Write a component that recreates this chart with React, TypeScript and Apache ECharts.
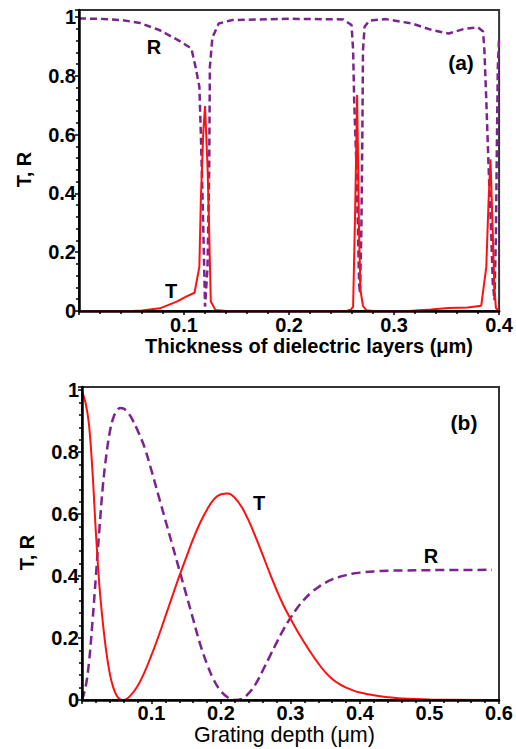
import React, { useEffect, useRef } from "react";
import * as echarts from "echarts";

// ---------- Data ----------
// Panel (a): x = thickness of dielectric layers (µm)
const thicknessT: [number, number][] = [
  [0, 0], [0.05, 0], [0.06, 0.002], [0.077, 0.009], [0.093, 0.032], [0.102, 0.049],
  [0.11, 0.062], [0.1146, 0.15], [0.116, 0.377], [0.1183, 0.605], [0.12, 0.697],
  [0.1224, 0.49], [0.124, 0.265], [0.1255, 0.032], [0.13, 0.003], [0.14, 0],
  [0.255, 0], [0.259, 0.005], [0.261, 0.015], [0.263, 0.35], [0.2648, 0.735],
  [0.2667, 0.265], [0.268, 0.071], [0.2704, 0.017], [0.2735, 0.003], [0.28, 0],
  [0.315, 0], [0.32, 0.002], [0.335, 0.005], [0.352, 0.01], [0.37, 0.012],
  [0.383, 0.018], [0.3878, 0.15], [0.39, 0.377], [0.3918, 0.516], [0.394, 0.265],
  [0.3955, 0.082], [0.397, 0.01], [0.4, 0],
];
const thicknessR: [number, number][] = [
  [0, 0.995], [0.02, 0.994], [0.04, 0.99], [0.058, 0.98], [0.077, 0.955],
  [0.096, 0.918], [0.107, 0.893], [0.111, 0.83], [0.1146, 0.763], [0.116, 0.605],
  [0.1177, 0.377], [0.1192, 0.15], [0.12, 0.015], [0.1224, 0.15], [0.124, 0.49],
  [0.1246, 0.83], [0.127, 0.93], [0.133, 0.978], [0.146, 0.99], [0.2, 0.994],
  [0.2516, 0.992], [0.2595, 0.973], [0.261, 0.888], [0.262, 0.718], [0.2642, 0.49],
  [0.2657, 0.265], [0.2667, 0.094], [0.2675, 0.06], [0.2688, 0.265], [0.2698, 0.6],
  [0.2704, 0.888], [0.272, 0.968], [0.2767, 0.988], [0.292, 0.993], [0.317, 0.978],
  [0.336, 0.956], [0.352, 0.944], [0.367, 0.96], [0.38, 0.965], [0.3847, 0.951],
  [0.386, 0.888], [0.3878, 0.718], [0.39, 0.49], [0.3925, 0.265], [0.394, 0.094],
  [0.3956, 0.037], [0.397, 0.265], [0.398, 0.6], [0.3988, 0.83], [0.4, 0.93],
];

// Panel (b): x = grating depth (µm)
const depthT: [number, number][] = [
  [0, 0.995], [0.005, 0.96], [0.01, 0.89], [0.015, 0.74], [0.02, 0.54], [0.025, 0.37],
  [0.03, 0.25], [0.035, 0.155], [0.04, 0.085], [0.045, 0.04], [0.05, 0.014],
  [0.055, 0.002], [0.06, 0], [0.07, 0.015], [0.08, 0.045], [0.09, 0.09], [0.1, 0.145],
  [0.11, 0.205], [0.12, 0.27], [0.13, 0.335], [0.14, 0.4], [0.15, 0.46], [0.16, 0.52],
  [0.17, 0.572], [0.18, 0.615], [0.19, 0.648], [0.2, 0.664], [0.21, 0.666],
  [0.22, 0.652], [0.23, 0.622], [0.24, 0.578], [0.25, 0.525], [0.26, 0.468],
  [0.27, 0.41], [0.28, 0.355], [0.29, 0.305], [0.3, 0.262], [0.31, 0.222],
  [0.32, 0.185], [0.33, 0.15], [0.34, 0.118], [0.35, 0.09], [0.36, 0.068],
  [0.37, 0.052], [0.38, 0.04], [0.39, 0.031], [0.4, 0.024], [0.42, 0.015],
  [0.44, 0.009], [0.46, 0.005], [0.5, 0.002], [0.58, 0],
];
const depthR: [number, number][] = [
  [0, 0], [0.005, 0.04], [0.01, 0.12], [0.015, 0.25], [0.02, 0.4], [0.025, 0.55],
  [0.03, 0.69], [0.035, 0.79], [0.04, 0.865], [0.045, 0.91], [0.05, 0.933],
  [0.055, 0.942], [0.06, 0.94], [0.065, 0.93], [0.07, 0.915], [0.08, 0.87],
  [0.09, 0.815], [0.1, 0.74], [0.11, 0.66], [0.12, 0.58], [0.13, 0.5], [0.14, 0.42],
  [0.15, 0.34], [0.16, 0.26], [0.17, 0.18], [0.18, 0.115], [0.19, 0.063],
  [0.2, 0.028], [0.21, 0.008], [0.22, 0], [0.23, 0.004], [0.24, 0.022], [0.25, 0.052],
  [0.26, 0.095], [0.27, 0.14], [0.28, 0.185], [0.29, 0.228], [0.3, 0.265],
  [0.31, 0.298], [0.32, 0.325], [0.33, 0.347], [0.34, 0.364], [0.35, 0.378],
  [0.36, 0.389], [0.37, 0.397], [0.38, 0.403], [0.39, 0.408], [0.4, 0.411],
  [0.42, 0.415], [0.44, 0.417], [0.46, 0.418], [0.5, 0.419], [0.59, 0.42],
];

const xTitleA = "Thickness of dielectric layers (μm)";
const xTitleB = "Grating depth (μm)";
const yTitle = "T, R";

const FONT = "'Liberation Sans', Arial, Helvetica, sans-serif";
const RED = "#ff1010";
const PURPLE = "#7b2390";

const hideOffGrid = (v: number) =>
  Math.abs(v * 5 - Math.round(v * 5)) < 1e-6 ? String(Math.round(v * 10) / 10) : "";

function axisBase(gridIndex: number) {
  return {
    type: "value" as const,
    gridIndex,
    z: 5,
    axisLine: { show: true, onZero: false, lineStyle: { color: "#000", width: 2.5 } },
    axisTick: { show: true, length: 4, lineStyle: { color: "#000", width: 1.5 } },
    minorTick: { show: true, splitNumber: 5, length: 3, lineStyle: { color: "#000", width: 1.5 } },
    splitLine: { show: false },
  };
}

const labelStyle = { color: "#000", fontSize: 20, fontWeight: "bold" as const, fontFamily: FONT };

export default function App() {
  const ref = useRef<HTMLDivElement>(null);
  useEffect(() => {
    document.body.style.margin = "0";
    const chart = echarts.init(ref.current!, null, { renderer: "svg" });
    const textEl = (text: string, x: number, y: number, size = 20) => ({
      type: "text",
      x,
      y,
      style: {
        text,
        fill: "#000",
        font: `bold ${size}px ${FONT}`,
        textAlign: "center",
        textVerticalAlign: "middle",
      },
    });
    chart.setOption({
      animation: false,
      backgroundColor: "#fff",
      grid: [
        { left: 79, top: 10, width: 426, height: 301, show: true, borderColor: "#333", borderWidth: 2 },
        { left: 82, top: 387, width: 417, height: 313, show: true, borderColor: "#333", borderWidth: 2 },
      ],
      xAxis: [
        {
          ...axisBase(0),
          min: 0,
          max: 0.4,
          interval: 0.1,
          axisLabel: { ...labelStyle, margin: 4, showMinLabel: false },
          name: xTitleA,
          nameLocation: "middle",
          nameGap: 21,
          nameTextStyle: {
            color: "#000", fontSize: 20, fontWeight: "bold", fontFamily: FONT,
            padding: [0, 0, 0, 40],
          },
        },
        {
          ...axisBase(1),
          min: 0,
          max: 0.6,
          interval: 0.1,
          axisLabel: { ...labelStyle, margin: 3, showMinLabel: false },
          name: xTitleB,
          nameLocation: "middle",
          nameGap: 24,
          nameTextStyle: {
            color: "#000", fontSize: 21.5, fontWeight: "normal", fontFamily: FONT,
            padding: [0, 12, 0, 0],
          },
        },
      ],
      yAxis: [
        {
          ...axisBase(0),
          min: 0,
          max: 1.024,
          interval: 0.2,
          axisLabel: { ...labelStyle, margin: 3, formatter: hideOffGrid },
          name: yTitle,
          nameLocation: "middle",
          nameGap: 45,
          nameTextStyle: {
            color: "#000", fontSize: 20, fontWeight: "bold", fontFamily: FONT,
            padding: [0, 18, 0, 0],
          },
        },
        {
          ...axisBase(1),
          min: 0,
          max: 1.01,
          interval: 0.2,
          axisLabel: { ...labelStyle, margin: 3, formatter: hideOffGrid },
          name: yTitle,
          nameLocation: "middle",
          nameGap: 45,
          nameTextStyle: {
            color: "#000", fontSize: 20, fontWeight: "bold", fontFamily: FONT,
            padding: [0, 18, 0, 0],
          },
        },
      ],
      series: [
        {
          type: "line", xAxisIndex: 0, yAxisIndex: 0, data: thicknessT, showSymbol: false,
          lineStyle: { color: RED, width: 2 }, z: 3,
        },
        {
          type: "line", xAxisIndex: 0, yAxisIndex: 0, data: thicknessR, showSymbol: false,
          lineStyle: { color: PURPLE, width: 2.5, type: [7, 4] }, z: 2,
        },
        {
          type: "line", xAxisIndex: 1, yAxisIndex: 1, data: depthT, showSymbol: false, smooth: 0.4,
          lineStyle: { color: RED, width: 2 }, z: 3,
        },
        {
          type: "line", xAxisIndex: 1, yAxisIndex: 1, data: depthR, showSymbol: false, smooth: 0.4,
          lineStyle: { color: PURPLE, width: 2.5, type: [9, 5] }, z: 2,
        },
      ],
      graphic: [
        textEl("R", 154, 47),
        textEl("T", 171, 291),
        textEl("(a)", 461, 62, 21),
        textEl("(b)", 464, 422, 21),
        textEl("T", 259, 503),
        textEl("R", 431, 556),
      ],
    });
    return () => chart.dispose();
  }, []);
  return <div ref={ref} style={{ width: 516, height: 749 }} />;
}
